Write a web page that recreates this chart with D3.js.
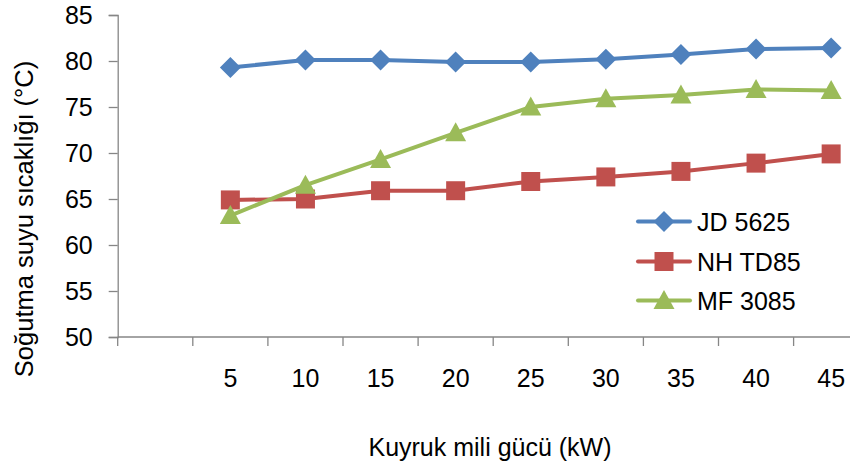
<!DOCTYPE html>
<html>
<head>
<meta charset="utf-8">
<script src="https://cdn.jsdelivr.net/npm/d3@7"></script>
<style>
  html, body { margin: 0; padding: 0; background: #fff; }
  svg { display: block; font-family: "Liberation Sans", Arial, sans-serif; }
</style>
</head>
<body>
<svg id="chart" width="850" height="468"></svg>
<script>
// ---- data ----
const categories = ["", "5", "10", "15", "20", "25", "30", "35", "40", "45"];
const xLabels = ["5", "10", "15", "20", "25", "30", "35", "40", "45"];
const jd5625 = [79.3, 80.1, 80.1, 79.9, 79.9, 80.2, 80.7, 81.3, 81.4];
const nhTD85 = [64.9, 65.0, 65.9, 65.9, 66.9, 67.4, 68.0, 68.9, 69.9];
const mf3085 = [63.2, 66.5, 69.3, 72.2, 75.0, 75.9, 76.3, 76.9, 76.8];
const yTicks = [50, 55, 60, 65, 70, 75, 80, 85];
const seriesNames = ["JD 5625", "NH TD85", "MF 3085"];
const xTitle = "Kuyruk mili gücü (kW)";
const yTitle = "Soğutma suyu sıcaklığı (°C)";

const colors = ["#4F81BD", "#C0504D", "#9BBB59"];
const axisColor = "#868686";
const svg = d3.select("#chart");

const x0 = 117.7, step = 75.1;
const x = d3.scaleBand().domain(categories).range([x0, x0 + step * categories.length]).padding(0);
const y = d3.scaleLinear().domain([50, 85]).range([337, 15]);

// y axis
const yAxis = svg.append("g").attr("transform", `translate(${x0},0)`)
  .call(d3.axisLeft(y).tickValues(yTicks).tickSize(9).tickPadding(16).tickFormat(d3.format("d")));
yAxis.select(".domain").attr("stroke", axisColor).attr("stroke-width", 1.3);
yAxis.selectAll(".tick line").attr("stroke", axisColor).attr("stroke-width", 1.3);
yAxis.selectAll(".tick text").attr("fill", "#000").style("font-size", "25px")
  .style("font-family", "Liberation Sans, Arial, sans-serif");

// x axis line
svg.append("line").attr("x1", x0).attr("x2", 850).attr("y1", y(50)).attr("y2", y(50))
  .attr("stroke", axisColor).attr("stroke-width", 1.3);
// x tick marks at band boundaries
svg.append("g").selectAll("line").data(categories).join("line")
  .attr("x1", d => x(d)).attr("x2", d => x(d))
  .attr("y1", y(50)).attr("y2", y(50) + 9)
  .attr("stroke", axisColor).attr("stroke-width", 1.3);
// x labels
const xAxis = svg.append("g").attr("transform", `translate(0,${y(50)})`)
  .call(d3.axisBottom(x).tickValues(xLabels).tickSize(0).tickPadding(32));
xAxis.select(".domain").remove();
xAxis.selectAll(".tick text").attr("fill", "#000").style("font-size", "25px")
  .style("font-family", "Liberation Sans, Arial, sans-serif");

// titles
svg.append("text").attr("x", 490).attr("y", 456).attr("text-anchor", "middle")
  .style("font-size", "25px").text(xTitle);
svg.append("text").attr("transform", "translate(33,219) rotate(-90)").attr("text-anchor", "middle")
  .style("font-size", "25.5px").text(yTitle);

// series
const allSeries = [jd5625, nhTD85, mf3085];
const cx = i => x(xLabels[i]) + x.bandwidth() / 2;
const line = d3.line().x((d, i) => cx(i)).y(d => y(d));
const symbols = [
  d3.symbol().type(d3.symbolDiamond).size(200),
  d3.symbol().type(d3.symbolSquare).size(340),
  d3.symbol().type(d3.symbolTriangle).size(230)
];
// custom diamond wider
function markerPath(k) {
  if (k === 0) return "M0,-10.5L10.5,0L0,10.5L-10.5,0Z";
  if (k === 1) return "M-9.5,-9.5H9.5V9.5H-9.5Z";
  return "M0,-10.5L10.5,8.5H-10.5Z";
}
allSeries.forEach((vals, k) => {
  const g = svg.append("g");
  g.append("path").datum(vals).attr("d", line).attr("fill", "none")
    .attr("stroke", colors[k]).attr("stroke-width", 4).attr("stroke-linejoin", "round");
  g.selectAll("path.m").data(vals).join("path").attr("class", "m")
    .attr("transform", (d, i) => `translate(${cx(i)},${y(d)})`)
    .attr("d", markerPath(k)).attr("fill", colors[k]);
});

// legend
const legY = [221.5, 261.5, 300.5];
seriesNames.forEach((name, k) => {
  const g = svg.append("g").attr("transform", `translate(0,${legY[k]})`);
  g.append("line").attr("x1", 638).attr("x2", 690).attr("y1", 0).attr("y2", 0)
    .attr("stroke", colors[k]).attr("stroke-width", 4).attr("stroke-linecap", "round");
  g.append("path").attr("transform", "translate(664,0)").attr("d", markerPath(k)).attr("fill", colors[k]);
  g.append("text").attr("x", 697).attr("y", 9).style("font-size", "25px").text(name);
});
</script>
</body>
</html>
